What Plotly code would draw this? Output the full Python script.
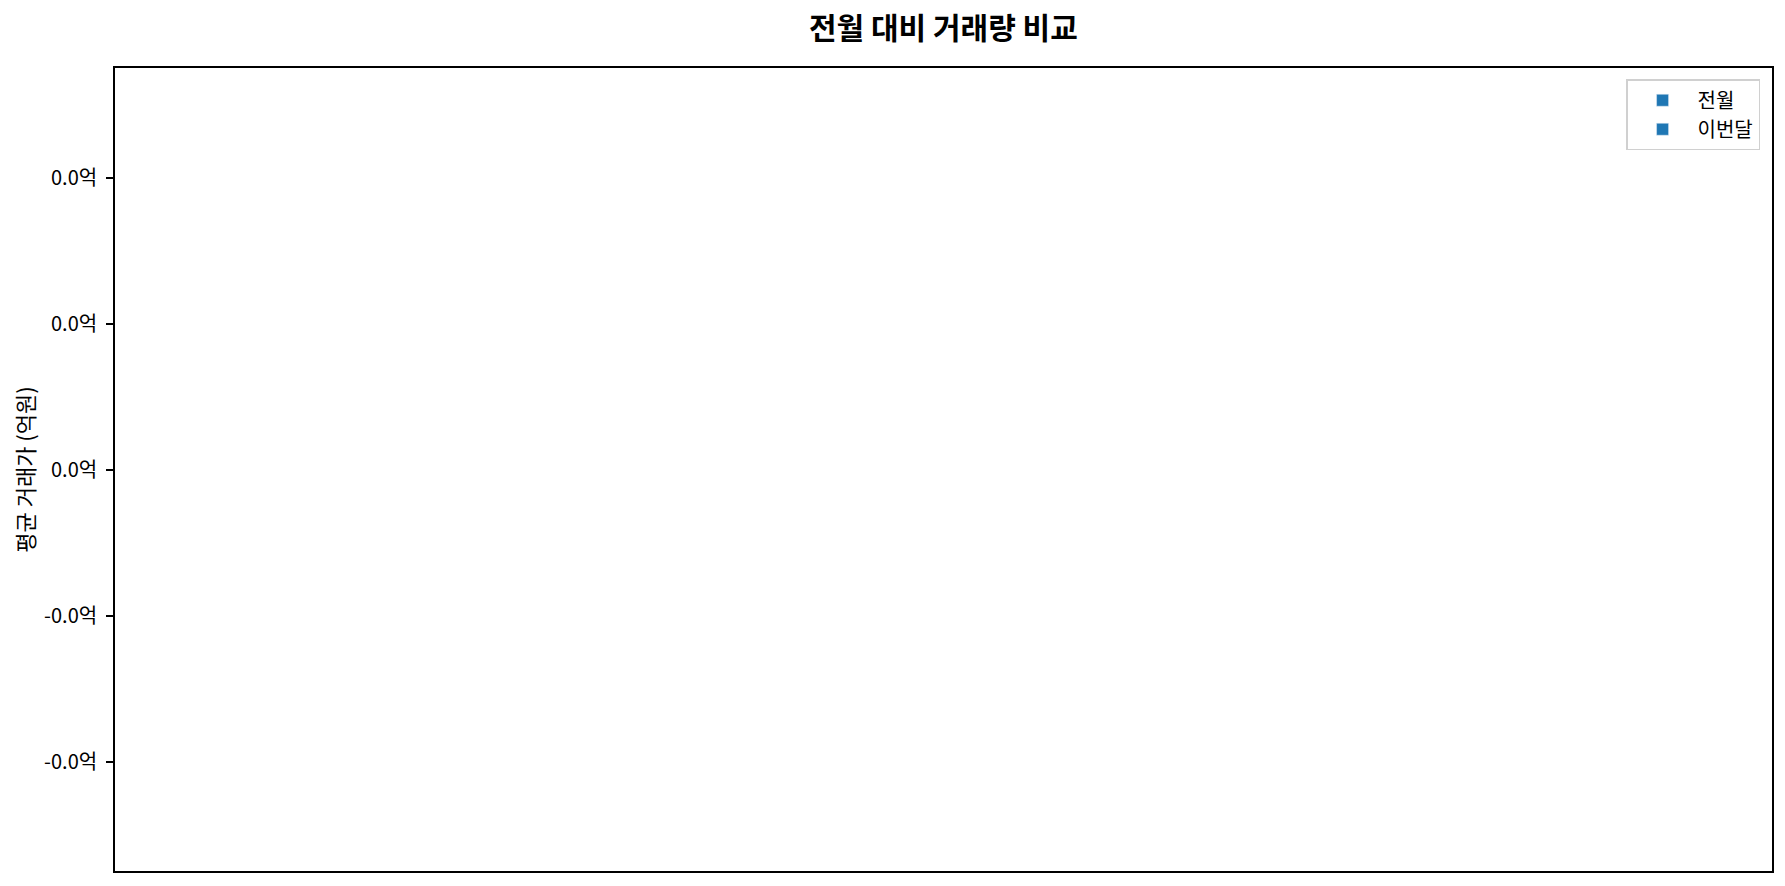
import plotly.graph_objects as go

# 데이터 (값 없음)
categories = ['']
prev_month = [None]
this_month = [None]

series_names = ['전월', '이번달']
y_ticks = [-0.04, -0.02, 0.0, 0.02, 0.04]
y_tick_labels = [f'{v / 1e8:.1f}억' for v in y_ticks]

font_family = 'Noto Sans CJK KR'

fig = go.Figure()
fig.add_bar(x=categories, y=prev_month, name=series_names[0], marker_color='#1f77b4')
fig.add_bar(x=categories, y=this_month, name=series_names[1], marker_color='#1f77b4')

# 페이지 body 여백(8px)을 감안한 크기
fig.update_layout(
    width=1777, height=878,
    margin=dict(l=107, r=13, t=60, b=15),
    paper_bgcolor='white', plot_bgcolor='white',
    font=dict(family=font_family, size=20, color='black'),
    title=dict(text='<b>전월 대비 거래량 비교</b>', x=0.5264, xanchor='center',
               y=0.977, yanchor='middle', font=dict(size=30)),
    barmode='group',
    showlegend=True,
    legend=dict(x=0.9928, xanchor='right', y=0.986, yanchor='top',
                bordercolor='#d0d0d0', borderwidth=1.5, bgcolor='white',
                font=dict(size=20), itemwidth=60, tracegroupgap=0),
)

fig.update_xaxes(showticklabels=False, ticks='', showgrid=False, zeroline=False,
                 showline=True, linecolor='black', linewidth=1.7, mirror=True)
fig.update_yaxes(range=[-0.055, 0.055], tickvals=y_ticks, ticktext=y_tick_labels,
                 ticks='outside', ticklen=7, tickwidth=1.7, tickcolor='black',
                 ticklabelstandoff=5, automargin=False,
                 showgrid=False, zeroline=False,
                 showline=True, linecolor='black', linewidth=1.7, mirror=True,
                 title=dict(text='평균 거래가 (억원)', standoff=13, font=dict(size=22)))

fig.write_html('out.html')
